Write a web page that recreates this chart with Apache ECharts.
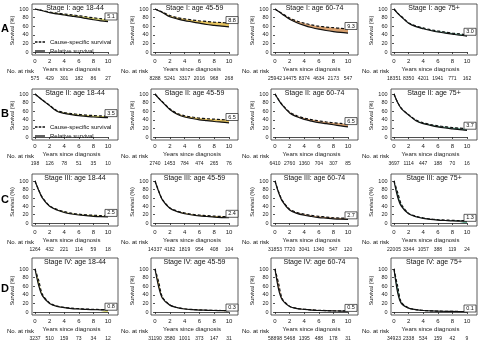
<!DOCTYPE html>
<html>
<head>
<meta charset="UTF-8">
<title>Survival by stage and age</title>
<style>
  html, body { margin: 0; padding: 0; background: #fff; }
  #chart { width: 483px; height: 343px; }
</style>
<script src="https://cdn.jsdelivr.net/npm/echarts@6/dist/echarts.min.js"></script>
</head>
<body>
<div id="chart"></div>
<script>
// ---- data ----
var years = [0, 0.5, 1, 2, 3, 4, 5, 6, 7, 8, 9, 10];
var stages = ['I', 'II', 'III', 'IV'];
var ages = ['18-44', '45-59', '60-74', '75+'];
var rowLetters = ['A', 'B', 'C', 'D'];
var riskYears = [0, 2, 4, 6, 8, 10];

// relative survival (%), one list per age group
var relStageI = [
  [100, 98, 96, 91.5, 88.5, 86, 83.5, 81, 78, 75, 72.5, 70.5],
  [100, 96, 92, 82, 77, 73, 70, 67, 64, 62, 60, 58.5],
  [100, 94, 88, 76, 68, 62, 57, 53, 50, 47.5, 45.5, 44],
  [100, 90, 82, 67, 59, 54, 50, 46.5, 44, 41.5, 39, 37]
];
var relStageII = [
  [100, 93, 86, 73, 60, 55, 52, 49.5, 48, 46.5, 45.5, 45],
  [100, 90, 81, 64, 53, 46.5, 43, 40, 38, 36, 34.5, 33],
  [100, 86, 74, 56, 47, 41, 37, 33.5, 31, 28.5, 26, 23.5],
  [100, 80, 66, 51, 38, 31, 27, 23.5, 21, 19, 17, 15.5]
];
var relStageIII = [
  [100, 78, 60, 40, 31, 25, 21.5, 19, 17.5, 16, 15, 14.5],
  [100, 75, 55, 35, 27, 22, 19, 17, 15.5, 14, 13, 12.5],
  [100, 72, 52, 31, 23, 18.5, 15.5, 13, 11.5, 10, 9, 8.5],
  [100, 62, 40, 22, 15, 11, 8.5, 7, 6, 5, 4.5, 4]
];
var relStageIV = [
  [100, 62, 38, 20, 13, 10, 8, 7, 6, 5.5, 5, 4.5],
  [100, 58, 32, 16, 10, 7, 5.5, 4.5, 4, 3.5, 3.2, 3],
  [100, 52, 28, 13, 8, 6, 4.5, 3.5, 3, 2.5, 2.2, 2],
  [100, 45, 20, 9, 5.5, 3.5, 2.5, 2, 1.6, 1.3, 1.1, 1]
];

// cause-specific survival (%)
var csStageI = [
  [100, 98.2, 96.5, 93, 90.5, 88.5, 86.5, 84.5, 82, 79.5, 77.5, 75.6],
  [100, 96.5, 93, 85, 80, 77, 74.5, 72.5, 71, 69.5, 68.5, 67.3],
  [100, 94.5, 89.5, 79, 72, 67, 63, 60, 58, 56.5, 55, 53.5],
  [100, 90.5, 83, 68, 60.5, 56, 52, 49, 46.5, 44, 42, 40]
];
var csStageII = [
  [100, 93.2, 86.5, 74, 61.5, 57, 54.5, 52.5, 51, 50, 49, 48.5],
  [100, 90.5, 82, 65.5, 55, 49.5, 46.5, 44, 42.5, 41.5, 40.5, 39.5],
  [100, 86.5, 75, 58, 49.5, 44, 40.5, 37.5, 35, 33, 31.5, 30],
  [100, 80.5, 67, 52, 39.5, 33, 29, 26, 24, 22, 20.5, 19.2]
];
var csStageIII = [
  [100, 79, 61, 41, 32.5, 27, 23.5, 21, 19.5, 18.5, 17.5, 17],
  [100, 76.5, 56, 36.5, 28.5, 24, 21, 19, 17.5, 16.5, 15.5, 14.9],
  [100, 74, 54, 33, 25, 21, 18, 16, 14, 12.5, 11.8, 11.2],
  [100, 73, 45, 23, 16, 12, 9.5, 8, 7, 6.3, 5.8, 5.3]
];
var csStageIV = [
  [100, 74, 42, 21, 14, 11, 9, 7.8, 6.8, 6.2, 5.7, 5.3],
  [100, 70, 35, 16.5, 10.5, 7.5, 6, 5, 4.3, 3.8, 3.5, 3.3],
  [100, 66, 31, 13.5, 8.5, 6.3, 5, 4, 3.4, 2.9, 2.6, 2.5],
  [100, 60, 23, 9.3, 5.7, 3.7, 2.7, 2.1, 1.7, 1.4, 1.2, 1.1]
];

// number at risk at 0, 2, 4, 6, 8, 10 years
var riskStageI = [
  [575, 429, 301, 182, 86, 27],
  [8288, 5241, 3317, 2016, 968, 268],
  [25942, 14475, 8374, 4634, 2173, 547],
  [18351, 8350, 4201, 1941, 771, 162]
];
var riskStageII = [
  [198, 126, 78, 51, 35, 10],
  [2740, 1453, 784, 474, 265, 76],
  [6410, 2760, 1360, 704, 307, 85],
  [3697, 1114, 447, 188, 70, 16]
];
var riskStageIII = [
  [1264, 432, 221, 114, 59, 18],
  [14337, 4182, 1819, 954, 408, 104],
  [31853, 7720, 3041, 1340, 547, 120],
  [22005, 3344, 1057, 388, 119, 24]
];
var riskStageIV = [
  [3237, 510, 159, 73, 34, 12],
  [31190, 3580, 1001, 373, 147, 31],
  [58898, 5468, 1395, 488, 178, 31],
  [34923, 2338, 534, 159, 42, 9]
];

// difference at 10 years (boxed numbers)
var diffStageI = ['5.1', '8.8', '9.3', '3.0'];
var diffStageII = ['3.5', '6.5', '6.5', '3.7'];
var diffStageIII = ['2.5', '2.4', '2.7', '1.3'];
var diffStageIV = ['0.8', '0.3', '0.5', '0.1'];

var relAll = [relStageI, relStageII, relStageIII, relStageIV];
var csAll = [csStageI, csStageII, csStageIII, csStageIV];
var riskAll = [riskStageI, riskStageII, riskStageIII, riskStageIV];
var diffAll = [diffStageI, diffStageII, diffStageIII, diffStageIV];

// ---- layout ----
var FONT = 'Liberation Sans, Arial, sans-serif';
var bandColors = ['#d9d570', '#e4c25e', '#d7a06e', '#5fa68c'];
var colX0 = [35, 155, 275, 394], colX10 = [108, 229, 348, 467];
var boxL = [32, 151, 271, 391], boxR = [118, 238, 358, 477];
var rowY100 = [9, 94, 181, 269], rowY0 = [52, 137, 223, 312];
var boxT = [4, 89, 174, 258], boxB = [55, 140, 226, 315];
var riskLabelX = [7, 121, 242, 362];
var axisColor = '#222';

var grids = [], xAxes = [], yAxes = [], series = [], graphics = [];

for (var r = 0; r < 4; r++) {
  graphics.push({type: 'text', x: 5, y: (rowY100[r] + rowY0[r]) / 2 - 2,
    style: {text: rowLetters[r], font: 'bold 11px ' + FONT, fill: '#000', align: 'center', verticalAlign: 'middle'}});
  for (var c = 0; c < 4; c++) {
    var rel = relAll[r][c], cs = csAll[r][c], risk = riskAll[r][c];
    // frame
    grids.push({left: boxL[c], top: boxT[r], width: boxR[c] - boxL[c], height: boxB[r] - boxT[r],
      show: true, borderColor: '#333', borderWidth: 0.8, backgroundColor: 'transparent'});
    var g0 = grids.length - 1;
    xAxes.push({gridIndex: g0, type: 'value', show: false});
    yAxes.push({gridIndex: g0, type: 'value', show: false});
    // plot area
    grids.push({left: colX0[c], top: rowY100[r], width: colX10[c] - colX0[c], height: rowY0[r] - rowY100[r]});
    var g = grids.length - 1;
    xAxes.push({
      gridIndex: g, type: 'value', min: 0, max: 10, interval: 2, position: 'bottom', offset: 4,
      axisLine: {lineStyle: {color: axisColor, width: 0.8}},
      axisTick: {length: 2, lineStyle: {color: axisColor, width: 0.8}},
      axisLabel: {fontSize: 6, margin: 2, color: '#222', fontFamily: FONT},
      splitLine: {show: false},
      name: 'Years since diagnosis', nameLocation: 'middle', nameGap: 10,
      nameTextStyle: {fontSize: 6, color: '#222', fontFamily: FONT}
    });
    var xi = xAxes.length - 1;
    xAxes.push({
      gridIndex: g, type: 'value', min: 0, max: 10, interval: 2, position: 'bottom', offset: 24,
      axisLine: {show: false}, axisTick: {show: false}, splitLine: {show: false},
      axisLabel: {fontSize: 5, margin: 0, color: '#222', fontFamily: FONT,
        formatter: (function (arr) { return function (v) { var k = riskYears.indexOf(v); return k < 0 ? '' : String(arr[k]); }; })(risk)}
    });
    yAxes.push({
      gridIndex: g, type: 'value', min: 0, max: 100, interval: 20, offset: 5,
      axisLine: {show: true, lineStyle: {color: axisColor, width: 0.8}},
      axisTick: {show: true, length: 2, lineStyle: {color: axisColor, width: 0.8}},
      axisLabel: {fontSize: 5.5, margin: 1.5, color: '#222', fontFamily: FONT},
      splitLine: {show: false},
      name: 'Survival (%)', nameLocation: 'middle', nameGap: 13,
      nameTextStyle: {fontSize: 5.5, color: '#222', fontFamily: FONT}
    });
    var yi = yAxes.length - 1;
    // band between the two curves: coloured area under cause-specific, masked in white under relative
    series.push({
      type: 'line', name: 'band', xAxisIndex: xi, yAxisIndex: yi, silent: true, z: 1,
      symbol: 'none', smooth: 0.3, lineStyle: {width: 0},
      areaStyle: {color: bandColors[c], opacity: 1},
      data: years.map(function (t, k) { return [t, cs[k]]; })
    });
    series.push({
      type: 'line', name: 'mask', xAxisIndex: xi, yAxisIndex: yi, silent: true, z: 2,
      symbol: 'none', smooth: 0.3, lineStyle: {width: 0},
      areaStyle: {color: '#fff', opacity: 1},
      data: years.map(function (t, k) { return [t, rel[k]]; })
    });
    series.push({
      type: 'line', name: 'Cause-specific survival', xAxisIndex: xi, yAxisIndex: yi,
      symbol: 'none', smooth: 0.3, z: 4,
      lineStyle: {color: '#111', width: 1.2, type: [3, 2]}, itemStyle: {color: '#111'},
      data: years.map(function (t, k) { return [t, cs[k]]; }),
      markPoint: {
        silent: true, symbol: 'rect', symbolSize: [12, 7], symbolOffset: [3, 0],
        itemStyle: {color: '#fff', borderColor: '#222', borderWidth: 0.7},
        label: {show: true, position: 'inside', fontSize: 5.5, color: '#111', fontFamily: FONT, formatter: diffAll[r][c]},
        data: [{coord: [10, Math.min(cs[cs.length - 1] + 7, 100)]}]
      }
    });
    series.push({
      type: 'line', name: 'Relative survival', xAxisIndex: xi, yAxisIndex: yi,
      symbol: 'none', smooth: 0.3, z: 4,
      lineStyle: {color: '#111', width: 1.2}, itemStyle: {color: '#111'},
      data: years.map(function (t, k) { return [t, rel[k]]; })
    });
    graphics.push({type: 'text', x: (boxL[c] + boxR[c]) / 2, y: boxT[r] + 4,
      style: {text: 'Stage ' + stages[r] + ': age ' + ages[c], font: '7px ' + FONT, fill: '#111', align: 'center', verticalAlign: 'middle'}});
    graphics.push({type: 'text', x: riskLabelX[c], y: rowY0[r] + 19,
      style: {text: 'No. at risk', font: '6px ' + FONT, fill: '#111', align: 'left', verticalAlign: 'middle'}});
  }
}

var dashIcon = 'path://M0,0h3v1h-3zM4.5,0h3v1h-3zM9,0h3v1h-3z';
var legendItems = [
  {name: 'Cause-specific survival', icon: dashIcon},
  {name: 'Relative survival', icon: 'rect'}
];
var legends = [0, 1].map(function (r) {
  return {
    left: colX0[0], top: rowY0[r] - 13, orient: 'vertical', padding: 0,
    itemWidth: 10, itemHeight: 1.3, itemGap: 3, selectedMode: false, symbolKeepAspect: false,
    data: legendItems, textStyle: {fontSize: 6, color: '#111', fontFamily: FONT}
  };
});

var myChart = echarts.init(document.getElementById('chart'));
myChart.setOption({
  animation: false,
  backgroundColor: '#fff',
  grid: grids,
  xAxis: xAxes,
  yAxis: yAxes,
  legend: legends,
  series: series,
  graphic: graphics
});
</script>
</body>
</html>
